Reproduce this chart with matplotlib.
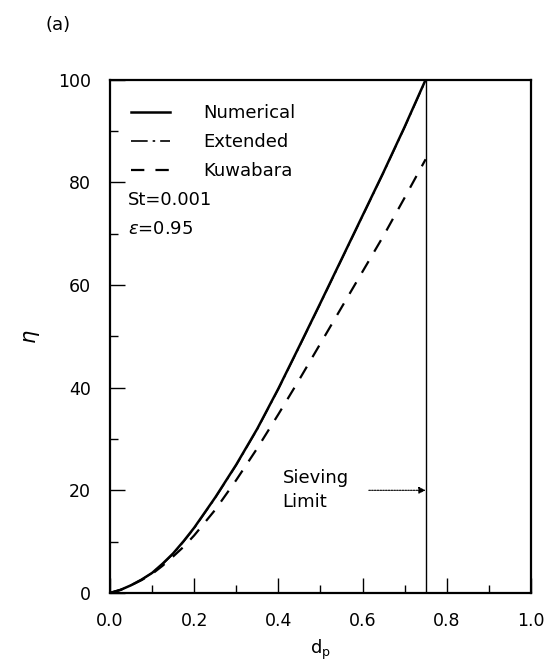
import numpy as np
import matplotlib.pyplot as plt
from matplotlib.ticker import MultipleLocator

# particle size d_p and collection efficiency eta (%)
dp = [0.0, 0.025, 0.05, 0.075, 0.10, 0.125, 0.15, 0.175, 0.20, 0.25, 0.30, 0.35, 0.40,
      0.45, 0.50, 0.55, 0.60, 0.65, 0.70, 0.75]
eta_numerical = [0.0, 0.6, 1.5, 2.6, 3.9, 5.7, 7.7, 10.1, 12.7, 18.6, 25.0, 32.0, 39.8,
                 48.1, 56.5, 65.0, 73.5, 82.0, 90.8, 100.0]
eta_extended = [0.0, 0.6, 1.5, 2.6, 3.9, 5.6, 7.6, 10.0, 12.6, 18.5, 24.9, 31.9, 39.7,
                48.0, 56.4, 64.9, 73.4, 81.9, 90.7, 99.9]
eta_kuwabara = [0.0, 0.6, 1.5, 2.5, 3.7, 5.3, 7.1, 9.0, 11.2, 16.2, 22.0, 28.2, 34.8,
                41.6, 48.6, 55.6, 62.6, 69.6, 77.0, 84.5]
sieving_limit = 0.75

plt.rcParams['font.family'] = 'DejaVu Sans'

fig = plt.figure(figsize=(5.48, 6.70), dpi=100)
ax = fig.add_axes([0.2007, 0.115, 0.768, 0.766])

ax.plot(dp, eta_numerical, color='black', lw=1.8, label='Numerical')
ax.plot(dp, eta_extended, color='black', lw=1.2, ls=(0, (10, 3, 1.5, 3)), label='Extended')
ax.plot(dp, eta_kuwabara, color='black', lw=1.6, ls=(0, (6, 5)), label='Kuwabara')
ax.axvline(sieving_limit, color='black', lw=1.0)

ax.text(0.41, 20, 'Sieving\nLimit', fontsize=13, va='center', ha='left', linespacing=1.45)
ax.annotate('', xy=(sieving_limit, 20), xytext=(0.615, 20),
            arrowprops=dict(arrowstyle='-|>', color='black', lw=0.8, ls=(0, (1.5, 1)),
                            shrinkA=0, shrinkB=0, mutation_scale=10))

leg = ax.legend(loc='upper left', bbox_to_anchor=(0.015, 0.981), frameon=False, fontsize=13,
                handlelength=2.2, handletextpad=1.8, labelspacing=0.62, borderaxespad=0.4)
ax.text(0.043, 0.766, 'St=0.001', transform=ax.transAxes, fontsize=13, va='center')
ax.text(0.043, 0.709, r'$\varepsilon$=0.95', transform=ax.transAxes, fontsize=13, va='center')

ax.set_xlim(0, 1.0)
ax.set_ylim(0, 100)
ax.xaxis.set_major_locator(MultipleLocator(0.2))
ax.xaxis.set_minor_locator(MultipleLocator(0.1))
ax.yaxis.set_major_locator(MultipleLocator(20))
ax.yaxis.set_minor_locator(MultipleLocator(10))
ax.xaxis.set_major_formatter(plt.FormatStrFormatter('%.1f'))
ax.tick_params(which='both', direction='in', labelsize=12.5, width=1.0)
ax.tick_params(which='major', length=11)
ax.tick_params(which='minor', length=6)
ax.tick_params(axis='x', pad=13.5)
ax.tick_params(axis='y', pad=13.5)
for s in ax.spines.values():
    s.set_linewidth(1.6)

ax.set_xlabel(r'd$_\mathregular{p}$', fontsize=13, labelpad=6)
ax.set_ylabel(r'$\eta$', fontsize=15, labelpad=12)
fig.text(0.106, 0.962, '(a)', fontsize=13, ha='center', va='center')

fig.savefig('out.png', dpi=100)
